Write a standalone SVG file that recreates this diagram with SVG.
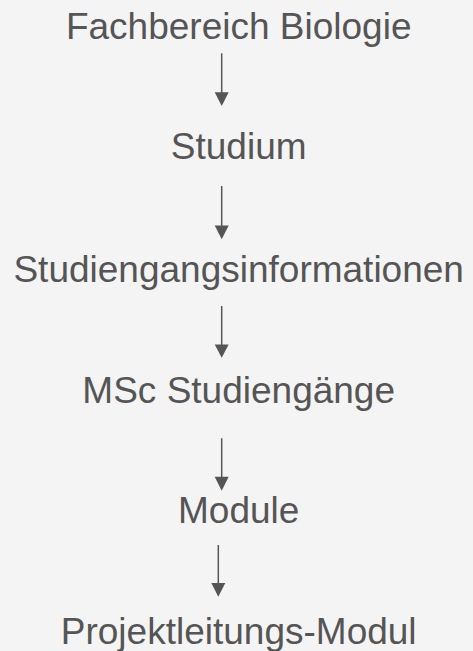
<svg xmlns="http://www.w3.org/2000/svg" width="473" height="651" viewBox="0 0 473 651">
<defs>
<style>
.t{font-family:"Liberation Sans",Arial,sans-serif;font-size:37px;fill:#555555;text-anchor:middle}
.c line{stroke:#555555;stroke-width:1.5}
.c polygon{fill:#555555}
</style>
</defs>
<rect width="473" height="651" fill="#f4f4f4"/>
<g id="n1"><text class="t" x="238.7" y="39">Fachbereich Biologie</text></g>
<g id="n2"><text class="t" x="238.7" y="159.3">Studium</text></g>
<g id="n3"><text class="t" x="238.7" y="281.7">Studiengangsinformationen</text></g>
<g id="n4"><text class="t" x="238.7" y="402.5">MSc Studiengänge</text></g>
<g id="n5"><text class="t" x="238.7" y="523.3">Module</text></g>
<g id="n6"><text class="t" x="238.7" y="644.3">Projektleitungs-Modul</text></g>
<g id="connectors" class="c">
<line x1="221.7" y1="53.3" x2="221.7" y2="94"/><polygon points="214.7,92.3 228.7,92.3 221.7,106"/>
<line x1="221.7" y1="186" x2="221.7" y2="227"/><polygon points="214.7,225.5 228.7,225.5 221.7,239.3"/>
<line x1="221.7" y1="306" x2="221.7" y2="346"/><polygon points="214.7,344.5 228.7,344.5 221.7,357.7"/>
<line x1="221.7" y1="438.3" x2="221.7" y2="478"/><polygon points="214.7,476.7 228.7,476.7 221.7,490.7"/>
<line x1="218.3" y1="545" x2="218.3" y2="584"/><polygon points="211.3,583 225.3,583 218.3,596.7"/>
</g>
</svg>
